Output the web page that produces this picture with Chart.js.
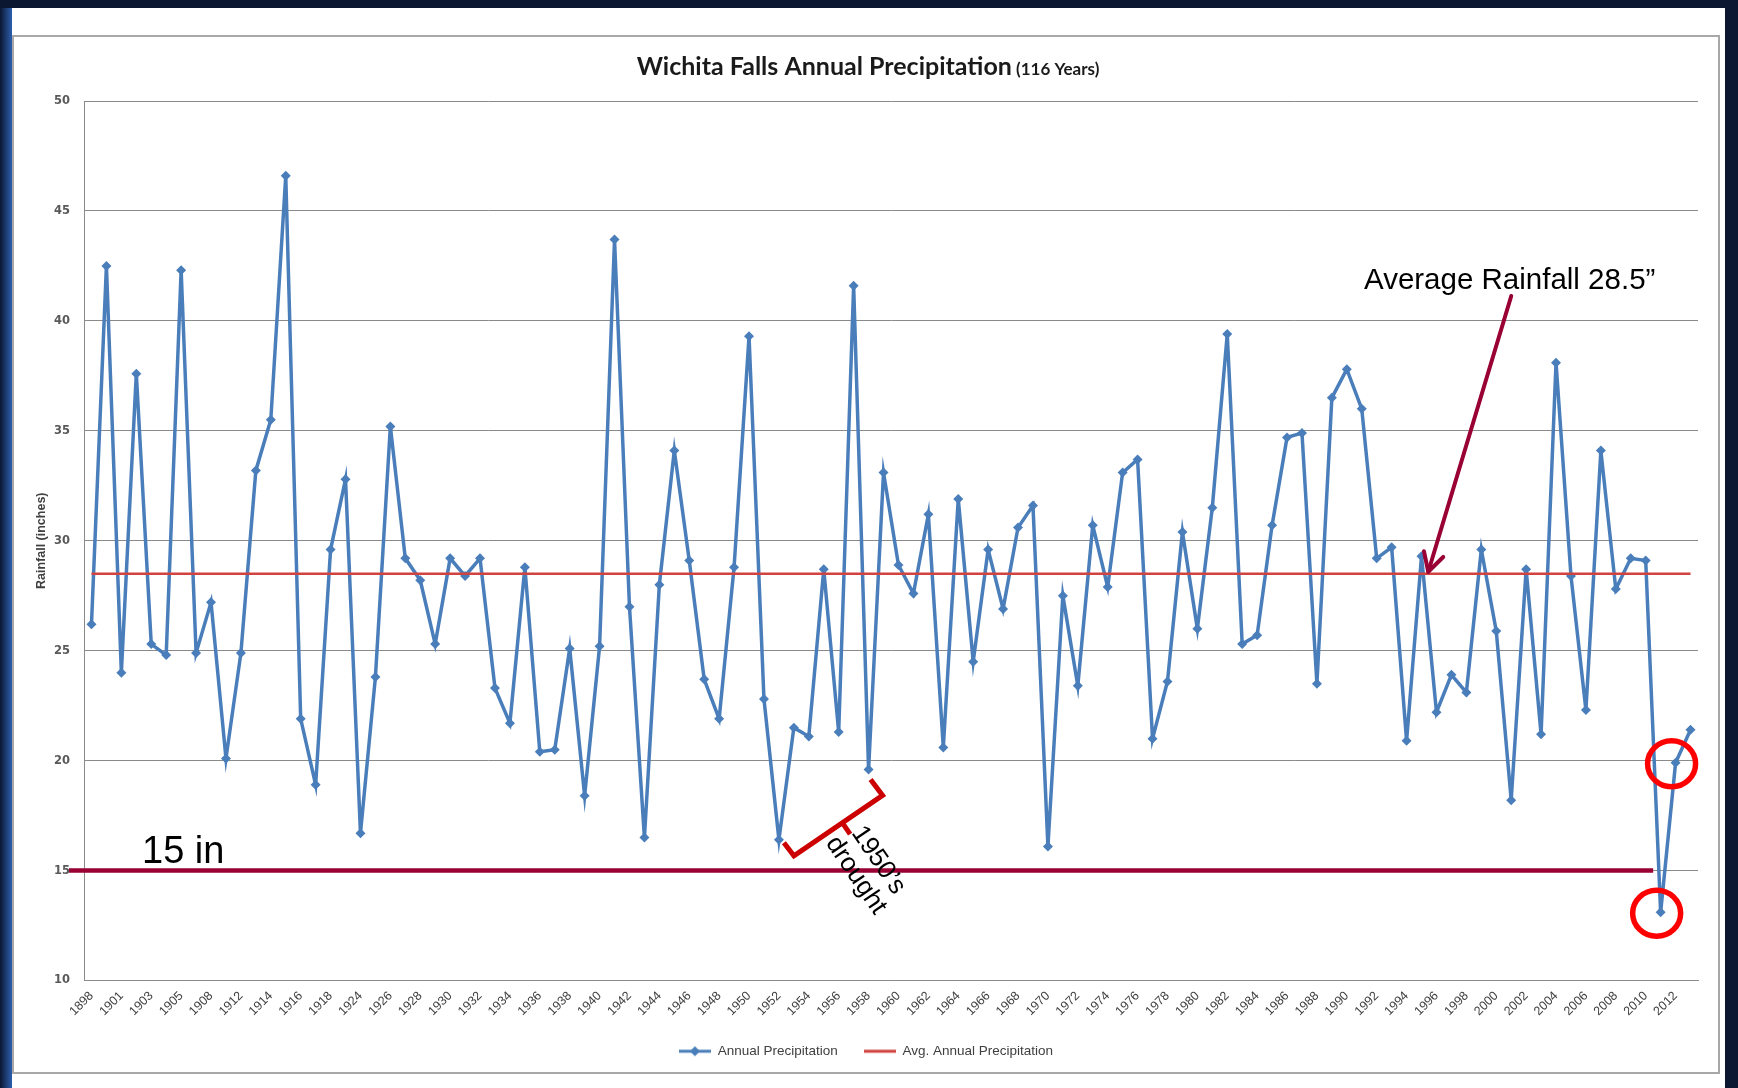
<!DOCTYPE html>
<html>
<head>
<meta charset="utf-8">
<title>Wichita Falls Annual Precipitation</title>
<script src="https://cdn.jsdelivr.net/npm/chart.js@4.4.1/dist/chart.umd.min.js"></script>
<style>
  html, body { margin: 0; padding: 0; background: #0b1631; overflow: hidden; }
  canvas { display: block; }
</style>
</head>
<body>
<canvas id="rain" width="1738" height="1088"></canvas>
<script>
// Recorded years (a few early years are missing from the record)
const YEARS = [
  '1898','1900','1901','1902','1903','1904','1905','1907','1908','1911',
  '1912','1913','1914','1915','1916','1917','1918','1919','1924','1925',
  '1926','1927','1928','1929','1930','1931','1932','1933','1934','1935',
  '1936','1937','1938','1939','1940','1941','1942','1943','1944','1945',
  '1946','1947','1948','1949','1950','1951','1952','1953','1954','1955',
  '1956','1957','1958','1959','1960','1961','1962','1963','1964','1965',
  '1966','1967','1968','1969','1970','1971','1972','1973','1974','1975',
  '1976','1977','1978','1979','1980','1981','1982','1983','1984','1985',
  '1986','1987','1988','1989','1990','1991','1992','1993','1994','1995',
  '1996','1997','1998','1999','2000','2001','2002','2003','2004','2005',
  '2006','2007','2008','2009','2010','2011','2012','2013'
];

// Annual precipitation, inches
const PRECIP = [
  26.2, 42.5, 24.0, 37.6, 25.3, 24.8, 42.3, 24.9, 27.2, 20.1,
  24.9, 33.2, 35.5, 46.6, 21.9, 18.9, 29.6, 32.8, 16.7, 23.8,
  35.2, 29.2, 28.2, 25.3, 29.2, 28.4, 29.2, 23.3, 21.7, 28.8,
  20.4, 20.5, 25.1, 18.4, 25.2, 43.7, 27.0, 16.5, 28.0, 34.1,
  29.1, 23.7, 21.9, 28.8, 39.3, 22.8, 16.4, 21.5, 21.1, 28.7,
  21.3, 41.6, 19.6, 33.1, 28.9, 27.6, 31.2, 20.6, 31.9, 24.5,
  29.6, 26.9, 30.6, 31.6, 16.1, 27.5, 23.4, 30.7, 27.9, 33.1,
  33.7, 21.0, 23.6, 30.4, 26.0, 31.5, 39.4, 25.3, 25.7, 30.7,
  34.7, 34.9, 23.5, 36.5, 37.8, 36.0, 29.2, 29.7, 20.9, 29.3,
  22.2, 23.9, 23.1, 29.6, 25.9, 18.2, 28.7, 21.2, 38.1, 28.4,
  22.3, 34.1, 27.8, 29.2, 29.1, 13.1, 19.9, 21.4
];

// Long-term average and the 15 inch threshold
const AVG_RAINFALL = 28.5;
const THRESHOLD = 15;

// Value axis range
const Y_MIN = 10;
const Y_MAX = 50;
const Y_STEP = 5;

// Years called out on the chart
const DROUGHT_START = '1952';
const DROUGHT_END = '1958';
const CIRCLED_YEARS = ['2012', '2011'];
const THRESHOLD_END_YEAR = '2010';

const BLUE = '#4a7ebb';
const RED = '#d0433e';
const MAROON = '#990033';

// Legend icons: a line with a diamond marker, and a plain line
function legendIcon(color, marker) {
  const c = document.createElement('canvas');
  c.width = 32; c.height = 12;
  const g = c.getContext('2d');
  g.strokeStyle = color; g.lineWidth = 3;
  g.beginPath(); g.moveTo(0, 6); g.lineTo(32, 6); g.stroke();
  if (marker) {
    g.fillStyle = color;
    g.beginPath(); g.moveTo(16, 1); g.lineTo(21, 6); g.lineTo(16, 11); g.lineTo(11, 6); g.closePath(); g.fill();
  }
  return c;
}
const ICONS = [legendIcon(BLUE, true), legendIcon(RED, false)];

const decorations = {
  id: 'decorations',
  beforeDraw(chart) {
    const ctx = chart.ctx;
    const W = chart.width, H = chart.height;
    ctx.save();
    // slide frame
    ctx.fillStyle = '#0b1631';
    ctx.fillRect(0, 0, W, H);
    ctx.fillStyle = '#ffffff';
    ctx.fillRect(12, 8, 1713, H - 8);
    const g = ctx.createLinearGradient(0, 0, 12, 0);
    g.addColorStop(0, '#0b1631');
    g.addColorStop(1, '#2d5fae');
    ctx.fillStyle = g;
    ctx.fillRect(0, 8, 12, H - 8);
    // chart border
    ctx.strokeStyle = '#a8a8a8';
    ctx.lineWidth = 2;
    ctx.strokeRect(13, 36, 1706, 1037);

    // title with smaller suffix
    const main = 'Wichita Falls Annual Precipitation';
    const sub = ' (116 Years)';
    ctx.fillStyle = '#1a1a1a';
    ctx.textBaseline = 'alphabetic';
    ctx.textAlign = 'left';
    ctx.font = 'bold 25px Lato';
    const w1 = ctx.measureText(main).width;
    ctx.font = 'bold 17px Lato';
    const w2 = ctx.measureText(sub).width;
    const x0 = 868 - (w1 + w2) / 2;
    ctx.font = 'bold 25px Lato';
    ctx.fillText(main, x0, 75);
    ctx.font = 'bold 17px Lato';
    ctx.fillText(sub, x0 + w1, 75);
    ctx.restore();
  },
  afterDatasetsDraw(chart) {
    const ctx = chart.ctx;
    const xs = chart.scales.x, ys = chart.scales.y;
    const step = xs.getPixelForValue(1) - xs.getPixelForValue(0);
    const px = (yr) => xs.getPixelForValue(YEARS.indexOf(yr));
    const py = (v) => ys.getPixelForValue(v);
    ctx.save();

    // 15 inch line
    const y15 = py(THRESHOLD);
    ctx.strokeStyle = MAROON;
    ctx.lineWidth = 4.5;
    ctx.beginPath();
    ctx.moveTo(ys.right - 15, y15);
    ctx.lineTo(px(THRESHOLD_END_YEAR) + step / 2, y15);
    ctx.stroke();
    ctx.fillStyle = '#000000';
    ctx.font = '38px "Liberation Sans"';
    ctx.textAlign = 'left';
    ctx.textBaseline = 'alphabetic';
    ctx.fillText('15 in', 142, y15 - 8);

    // average callout with arrow
    ctx.font = '29.5px "Liberation Sans"';
    ctx.fillText('Average Rainfall 28.5\u201D', 1364, 289);
    const tipX = xs.getPixelForValue(89) + 0.45 * step;
    const tipY = py(AVG_RAINFALL) - 2;
    const tailX = tipX + 83, tailY = 296;
    ctx.strokeStyle = MAROON;
    ctx.lineWidth = 4;
    ctx.lineCap = 'round';
    ctx.beginPath();
    ctx.moveTo(tailX, tailY);
    ctx.lineTo(tipX, tipY);
    ctx.stroke();
    const ang = Math.atan2(tailY - tipY, tailX - tipX);
    ctx.beginPath();
    [-0.5, 0.5].forEach((d) => {
      ctx.moveTo(tipX, tipY);
      ctx.lineTo(tipX + 21 * Math.cos(ang + d), tipY + 21 * Math.sin(ang + d));
    });
    ctx.stroke();

    // 1950's drought bracket
    const a = { x: px(DROUGHT_START), y: py(PRECIP[YEARS.indexOf(DROUGHT_START)]) };
    const b = { x: px(DROUGHT_END), y: py(PRECIP[YEARS.indexOf(DROUGHT_END)]) };
    const p1 = { x: a.x + 5, y: a.y + 3 };
    const p2 = { x: a.x + 15, y: a.y + 16 };
    const p3 = { x: b.x + 14, y: b.y + 26 };
    const p4 = { x: b.x + 2, y: b.y + 10 };
    ctx.strokeStyle = '#cc0000';
    ctx.lineWidth = 5;
    ctx.lineCap = 'butt';
    ctx.lineJoin = 'miter';
    ctx.beginPath();
    ctx.moveTo(p1.x, p1.y); ctx.lineTo(p2.x, p2.y); ctx.lineTo(p3.x, p3.y); ctx.lineTo(p4.x, p4.y);
    ctx.stroke();
    const mx = (p2.x + p3.x) / 2 + 4, my = (p2.y + p3.y) / 2 - 3;
    const len = Math.hypot(p3.x - p2.x, p3.y - p2.y);
    const nx = -(p3.y - p2.y) / len, ny = (p3.x - p2.x) / len;
    ctx.beginPath();
    ctx.moveTo(mx, my);
    ctx.lineTo(mx + 14 * nx, my + 14 * ny);
    ctx.stroke();
    ctx.save();
    ctx.translate(mx + 17 * nx + 5, my + 17 * ny - 8);
    ctx.rotate(Math.atan2(ny, nx));
    ctx.fillStyle = '#000000';
    ctx.font = '26px "Liberation Sans"';
    ctx.textBaseline = 'middle';
    ctx.fillText("1950\u2019s", 0, 0);
    ctx.fillText('drought', -6, 27);
    ctx.restore();

    // circled recent years
    ctx.strokeStyle = '#ff0000';
    ctx.lineWidth = 5.5;
    CIRCLED_YEARS.forEach((yr) => {
      const cx = px(yr) - 4;
      const cy = py(PRECIP[YEARS.indexOf(yr)]) + 1;
      ctx.beginPath();
      ctx.ellipse(cx, cy, 24, 23, 0, 0, Math.PI * 2);
      ctx.stroke();
    });
    ctx.restore();
  }
};

new Chart(document.getElementById('rain'), {
  type: 'line',
  data: {
    labels: YEARS,
    datasets: [
      {
        label: 'Annual Precipitation',
        data: PRECIP,
        borderColor: BLUE,
        backgroundColor: BLUE,
        borderWidth: 3.5,
        pointStyle: 'rectRot',
        pointRadius: 5,
        pointBorderWidth: 0,
        tension: 0,
        order: 2
      },
      {
        label: 'Avg. Annual Precipitation',
        data: [
          { x: YEARS[0], y: AVG_RAINFALL },
          { x: YEARS[YEARS.length - 1], y: AVG_RAINFALL }
        ],
        borderColor: RED,
        backgroundColor: RED,
        borderWidth: 2.5,
        pointRadius: 0,
        order: 1
      }
    ]
  },
  options: {
    responsive: false,
    animation: false,
    devicePixelRatio: 1,
    layout: { padding: { left: 34, right: 40, top: 101, bottom: 20 } },
    scales: {
      x: {
        offset: true,
        grid: { display: false, drawTicks: false },
        border: { display: true, color: '#8a8a8a', width: 1 },
        ticks: {
          autoSkip: false,
          maxRotation: 45,
          minRotation: 45,
          padding: 8,
          color: '#404040',
          font: { family: 'Liberation Sans', size: 12.5 },
          callback: (v, i) => (i % 2 === 0 ? YEARS[i] : '')
        },
        afterFit: (s) => { s.height = 38; }
      },
      y: {
        min: Y_MIN,
        max: Y_MAX,
        grid: { color: '#8a8a8a', lineWidth: 1, drawTicks: false },
        border: { display: true, color: '#8a8a8a', width: 1 },
        ticks: {
          stepSize: Y_STEP,
          padding: 14,
          color: '#595959',
          font: { family: 'DejaVu Sans', size: 11.5, weight: 'bold' }
        },
        title: {
          display: true,
          text: 'Rainfall (inches)',
          color: '#404040',
          padding: 0,
          font: { family: 'Liberation Sans', size: 12.5, weight: 'bold' }
        },
        afterFit: (s) => { s.width = 50; }
      }
    },
    plugins: {
      title: { display: false },
      tooltip: { enabled: false },
      legend: {
        position: 'bottom',
        labels: {
          usePointStyle: true,
          pointStyleWidth: 32,
          padding: 26,
          color: '#404040',
          font: { family: 'Liberation Sans', size: 13.5 },
          generateLabels: (chart) => chart.data.datasets.map((ds, i) => ({
            text: ds.label,
            pointStyle: ICONS[i],
            datasetIndex: i,
            hidden: false,
            lineWidth: 0,
            strokeStyle: 'transparent',
            fillStyle: 'transparent',
            fontColor: '#404040'
          }))
        }
      }
    }
  },
  plugins: [decorations]
});
</script>
</body>
</html>
